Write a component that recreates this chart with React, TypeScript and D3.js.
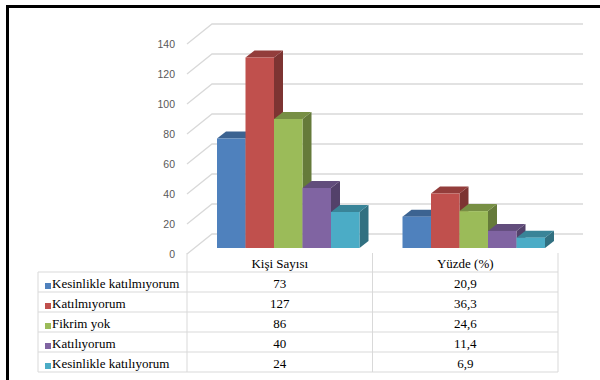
import React from "react";
import * as d3 from "d3";

const categories = ["Kişi Sayısı", "Yüzde (%)"];
const series = [
  "Kesinlikle katılmıyorum",
  "Katılmıyorum",
  "Fikrim yok",
  "Katılıyorum",
  "Kesinlikle katılıyorum",
];
const kisiSayisi = [73, 127, 86, 40, 24];
const yuzde = [20.9, 36.3, 24.6, 11.4, 6.9];
const kisiLabels = ["73", "127", "86", "40", "24"];
const yuzdeLabels = ["20,9", "36,3", "24,6", "11,4", "6,9"];
const yTicks = [0, 20, 40, 60, 80, 100, 120, 140];
const colors = ["#4F81BD", "#C0504D", "#9BBB59", "#8064A2", "#4BACC6"];

const W = 600;
const H = 380;

export default function App() {
  const y = d3.scaleLinear().domain([0, 140]).range([248, 38]);
  const xCat = d3.scaleBand<string>().domain(categories).range([187, 558]);
  const xSer = d3.scaleBand<string>().domain(series).range([0, 142.5]);
  const groupOffset = 30;
  const dx = 9;
  const dy = 7;
  const wallDx = 25;
  const frontOff = 6;
  const backOff = -14;
  const values = [kisiSayisi, yuzde];
  const labels = [kisiLabels, yuzdeLabels];

  const tableLeft = 38;
  const tableRight = 558;
  const rowTop = 272;
  const rowH = 20;
  const headerTop = 253;
  const serif = "Liberation Serif, Times New Roman, Times, DejaVu Serif, serif";
  const grid = "#d9d9d9";

  const bars: React.ReactNode[] = [];
  categories.forEach((c, ci) => {
    series.forEach((s, si) => {
      const v = values[ci][si];
      const x0 = (xCat(c) as number) + groupOffset + (xSer(s) as number);
      const x1 = x0 + xSer.bandwidth();
      const top = y(v);
      const bot = y(0);
      const col = d3.color(colors[si])!;
      const side = col.darker(1.2).formatHex();
      const topC = col.darker(0.75).formatHex();
      bars.push(
        <g key={`${ci}-${si}`}>
          <polygon
            points={`${x1},${top} ${x1 + dx},${top - dy} ${x1 + dx},${bot - dy} ${x1},${bot}`}
            fill={side}
          />
          <polygon
            points={`${x0},${top} ${x0 + dx},${top - dy} ${x1 + dx},${top - dy} ${x1},${top}`}
            fill={topC}
          />
          <rect x={x0} y={top} width={x1 - x0} height={bot - top} fill={colors[si]} />
        </g>
      );
    });
  });

  return (
    <div style={{ position: "fixed", left: 0, top: 0 }}>
      <svg width={W} height={H} viewBox={`0 0 ${W} ${H}`} style={{ display: "block", background: "#fff" }}>
        <rect x={0} y={0} width={W} height={H} fill="#fff" />
        {yTicks.map((t) => (
          <g key={t}>
            <polyline
              points={`187,${y(t) + frontOff} ${187 + wallDx},${y(t) + backOff} 583,${y(t) + backOff}`}
              fill="none"
              stroke={grid}
              strokeWidth={1.3}
            />
            <text
              x={175}
              y={y(t) + frontOff}
              dy="0.35em"
              textAnchor="end"
              fontFamily="Liberation Sans, Arial, sans-serif"
              fontSize={10.5}
              fill="#595959"
            >
              {t}
            </text>
          </g>
        ))}
        {bars}
        <g stroke={grid} strokeWidth={1}>
          {d3.range(series.length + 1).map((i) => (
            <line key={`h${i}`} x1={tableLeft} x2={tableRight} y1={rowTop + i * rowH} y2={rowTop + i * rowH} />
          ))}
          <line x1={tableLeft} x2={tableLeft} y1={rowTop} y2={rowTop + series.length * rowH} />
          {[187, 187 + xCat.bandwidth(), tableRight].map((x, i) => (
            <line key={`v${i}`} x1={x} x2={x} y1={headerTop} y2={rowTop + series.length * rowH} />
          ))}
        </g>
        <g style={{ fontFamily: serif }} fontSize={13} fill="#000">
          {categories.map((c) => (
            <text key={c} x={(xCat(c) as number) + xCat.bandwidth() / 2} y={268} textAnchor="middle">
              {c}
            </text>
          ))}
          {series.map((s, si) => (
            <g key={s}>
              <rect x={45} y={rowTop + si * rowH + 11} width={6} height={6} fill={colors[si]} />
              <text x={52} y={rowTop + si * rowH + 16}>
                {s}
              </text>
              {categories.map((c, ci) => (
                <text
                  key={c}
                  x={(xCat(c) as number) + xCat.bandwidth() / 2}
                  y={rowTop + si * rowH + 16}
                  textAnchor="middle"
                >
                  {labels[ci][si]}
                </text>
              ))}
            </g>
          ))}
        </g>
        <rect x={7.5} y={6.5} width={800} height={600} fill="none" stroke="#000" strokeWidth={3} />
      </svg>
    </div>
  );
}
